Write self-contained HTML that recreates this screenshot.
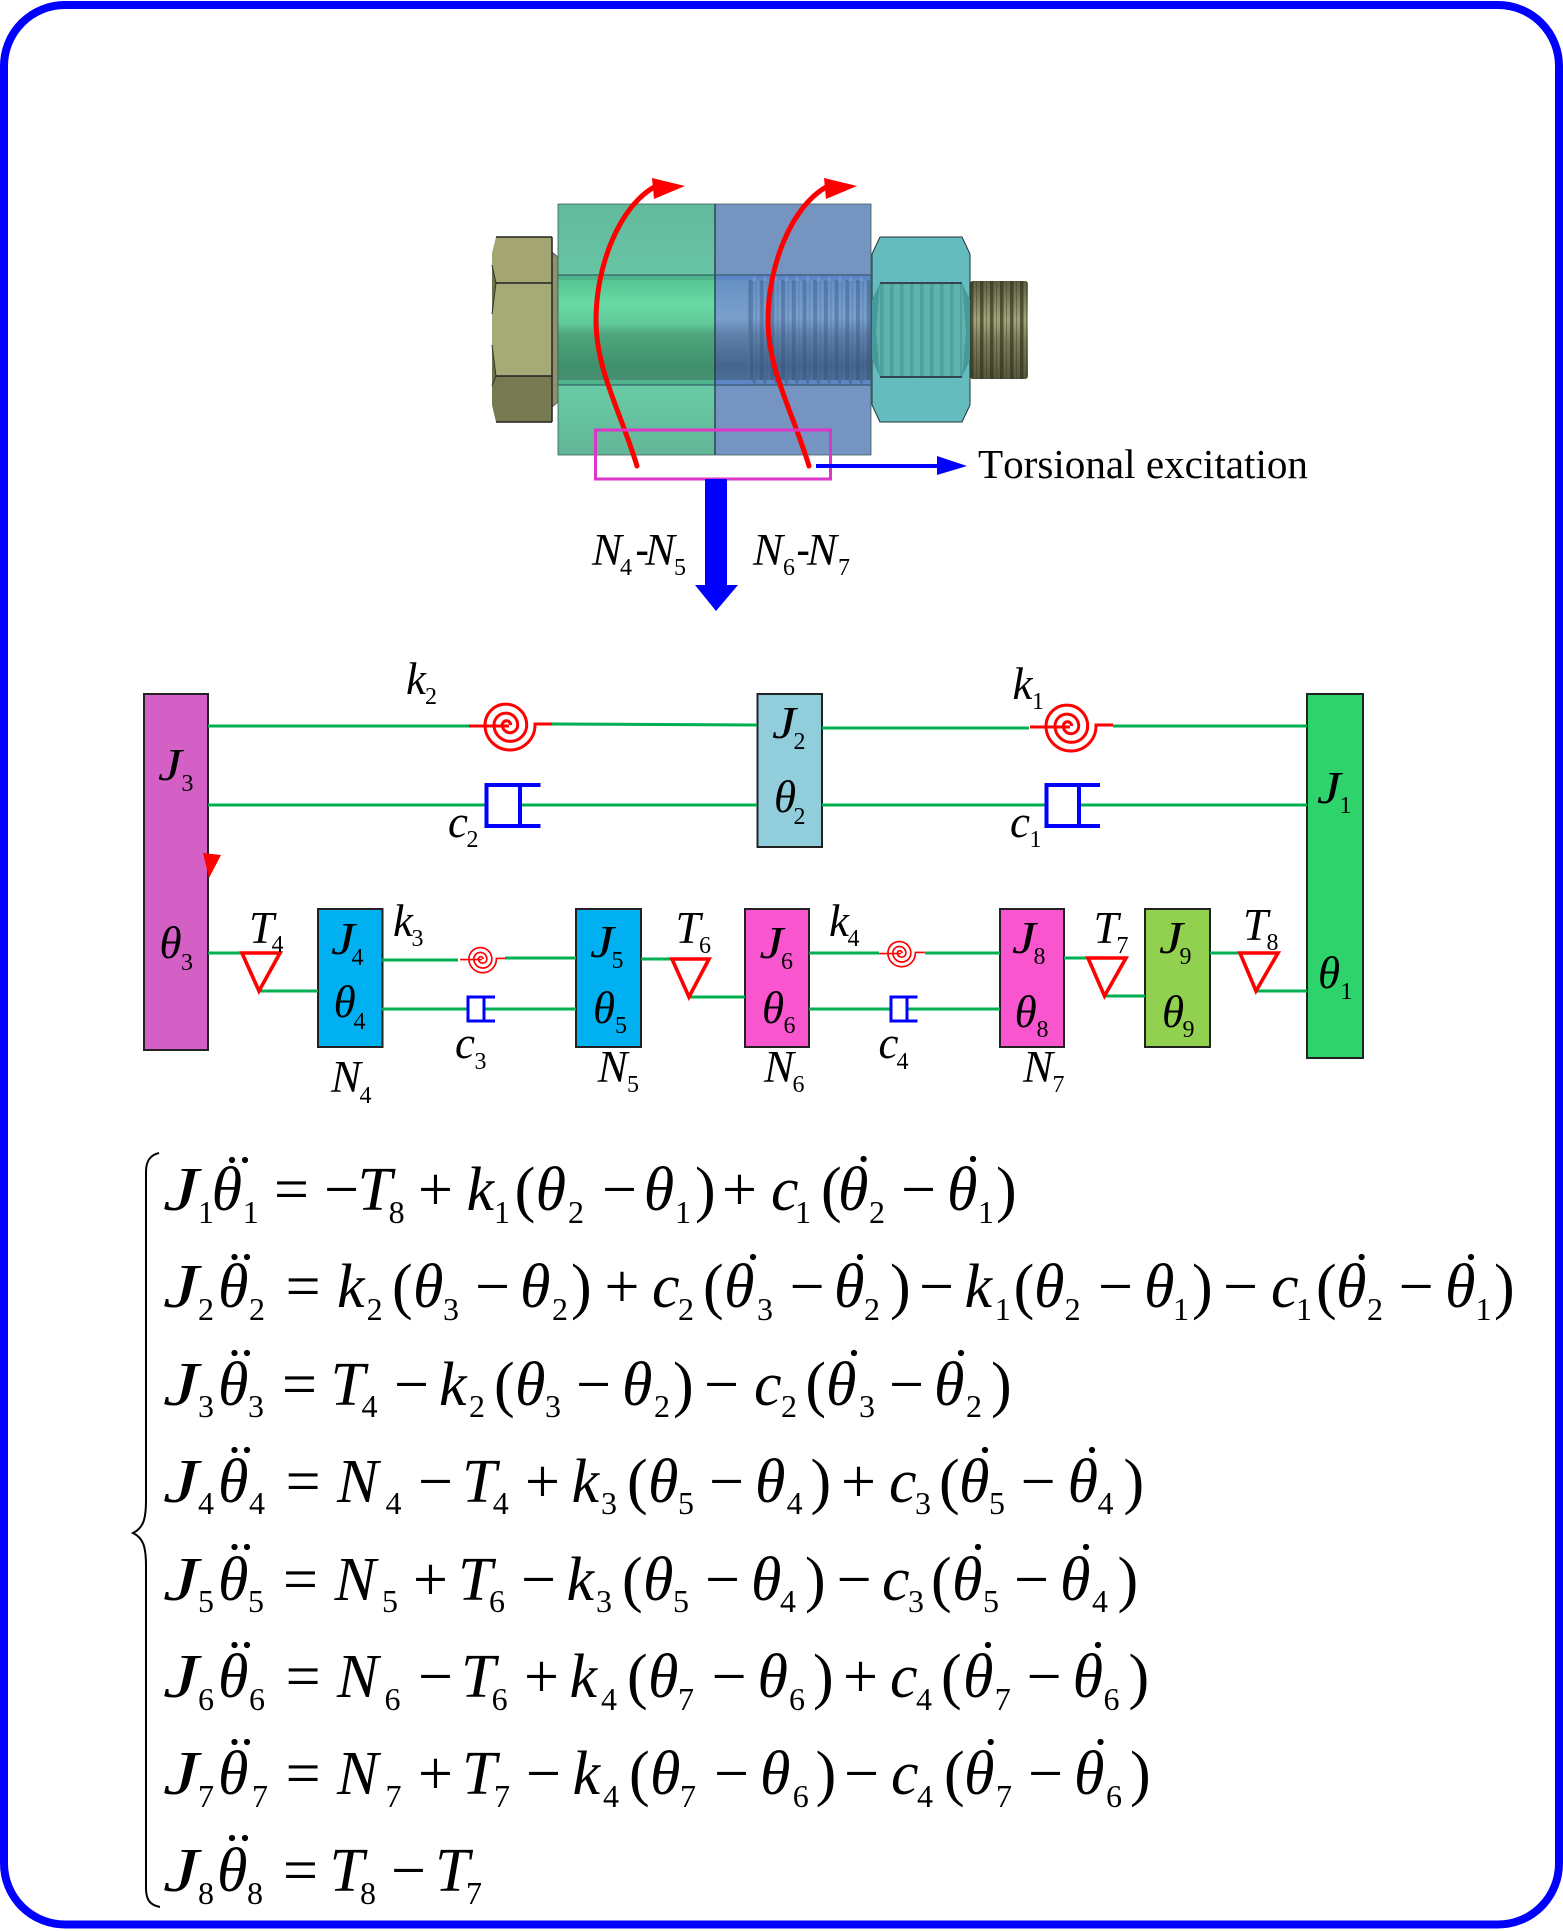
<!DOCTYPE html>
<html><head><meta charset="utf-8"><title>Torsional excitation model</title>
<style>
html,body{margin:0;padding:0;background:#fff}
svg{display:block}
text{font-family:"Liberation Serif",serif;fill:#000;font-kerning:none}
.i{font-style:italic;font-size:62px}
.u{font-size:32px}
.o{font-size:62px}
text.i,text.o,g.i{transform:translateY(2px)}
.L{font-style:italic;font-size:45px}
.S{font-size:24px}
.g{stroke:#00b050;stroke-width:3;fill:none}
.b{stroke:#222;stroke-width:2}
.t{fill:none;stroke:#f00;stroke-width:3.6;stroke-linejoin:miter}
.d{fill:none;stroke:#00f;stroke-width:4}
.ds{fill:none;stroke:#00f;stroke-width:3}
.r{fill:none;stroke:#f00;stroke-width:5;stroke-linecap:round}
</style></head><body>
<svg width="1563" height="1931" viewBox="0 0 1563 1931" xmlns="http://www.w3.org/2000/svg">
<defs>
<linearGradient id="gc" x1="0" y1="0" x2="0" y2="1">
<stop offset="0" stop-color="#54c693"/><stop offset=".24" stop-color="#69daa5"/><stop offset=".44" stop-color="#5fc997"/><stop offset=".54" stop-color="#4ea67e"/><stop offset=".87" stop-color="#3f8f6b"/><stop offset="1" stop-color="#478f73"/>
</linearGradient>
<linearGradient id="bc" x1="0" y1="0" x2="0" y2="1">
<stop offset="0" stop-color="#6690c4"/><stop offset=".38" stop-color="#7aa0cc"/><stop offset=".55" stop-color="#5f80aa"/><stop offset=".85" stop-color="#46668d"/><stop offset="1" stop-color="#4c6e96"/>
</linearGradient>
<linearGradient id="gt" x1="0" y1="0" x2="0" y2="1"><stop offset="0" stop-color="#62ba9c"/><stop offset="1" stop-color="#68c4a4"/></linearGradient>
<linearGradient id="gb" x1="0" y1="0" x2="0" y2="1"><stop offset="0" stop-color="#68cba6"/><stop offset="1" stop-color="#62b698"/></linearGradient>
<linearGradient id="ol" x1="0" y1="0" x2="0" y2="1">
<stop offset="0" stop-color="#5e5f40"/><stop offset=".4" stop-color="#a2a478"/><stop offset=".6" stop-color="#7c7e58"/><stop offset="1" stop-color="#55563a"/>
</linearGradient>
<pattern id="st" width="10.7" height="10" patternUnits="userSpaceOnUse" x="749"><rect x="0" width="4" height="10" fill="#2f4f80" fill-opacity=".4"/><rect x="6.5" width="1.2" height="10" fill="#2f4f80" fill-opacity=".25"/></pattern>
<pattern id="tt" width="10.7" height="6" patternUnits="userSpaceOnUse" x="749" y="275"><path d="M0 6L3 6L5.3 0L7.6 6H10.7Z" fill="#7098cb"/></pattern>
<pattern id="tb" width="10.7" height="6" patternUnits="userSpaceOnUse" x="749" y="379"><path d="M0 0L3 0L5.3 6L7.6 0H10.7Z" fill="#4c6e96"/></pattern>
<pattern id="sn" width="10" height="10" patternUnits="userSpaceOnUse" x="880"><rect x="0" width="3.5" height="10" fill="#2b7f80" fill-opacity=".35"/></pattern>
<pattern id="so" width="10" height="10" patternUnits="userSpaceOnUse" x="970"><rect x="0" width="3.5" height="10" fill="#33341f" fill-opacity=".7"/><rect x="6" width="1" height="10" fill="#33341f" fill-opacity=".4"/></pattern>
<g id="spring">
<path d="M-38 1H2" fill="none" stroke="#f00" stroke-width="3"/>
<path d="M3.7 0A4.2 4.2 0 0 0 -4.7 0A7.7 7.7 0 0 0 10.7 0A11.85 11.85 0 0 0 -13 0A16.35 16.35 0 0 0 19.7 0A20.85 20.85 0 0 0 -22 0A25 25 0 0 0 28 0V-1H45" fill="none" stroke="#f00" stroke-width="3"/>
</g>
</defs>

<rect x="4" y="5" width="1555" height="1919.5" rx="61" ry="61" fill="#fff" stroke="#00f" stroke-width="8"/>

<!-- bolt -->
<path d="M552 252L558 257V402L552 407Z" fill="#8f9268" stroke="#444" stroke-width=".8"/>
<path d="M496 237H552V283H496L492 275V253Z" fill="#a3a673"/>
<path d="M496 283H552V376H496L492 345V314Z" fill="#a6aa76"/>
<path d="M496 376H552V422H496L492 405V386Z" fill="#777a50"/>
<path d="M492 265L496 283L492 314M492 345L496 376L492 386" fill="#6c6e48" stroke="#333" stroke-width="1"/>
<path d="M496 283H552M496 376H552M496 237H552M496 422H552M552 237V422" stroke="#222" stroke-width="1.5" fill="none"/>

<rect x="558" y="204" width="157" height="71" fill="url(#gt)"/>
<rect x="558" y="385" width="157" height="70" fill="url(#gb)"/>
<rect x="558" y="275" width="157" height="110" fill="#4fb48c"/>
<rect x="558" y="280" width="157" height="100" fill="url(#gc)"/>
<rect x="715" y="204" width="156" height="71" fill="#7594bf"/>
<rect x="715" y="385" width="156" height="70" fill="#7594c2"/>
<rect x="715" y="275" width="156" height="110" fill="#5c86c6"/>
<rect x="715" y="280" width="156" height="100" fill="url(#bc)"/>
<rect x="749" y="280" width="122" height="100" fill="url(#st)"/>
<rect x="749" y="275" width="122" height="6" fill="url(#tt)"/>
<rect x="749" y="379" width="122" height="6" fill="url(#tb)"/>
<path d="M749 280V380" stroke="#56749c" stroke-width="1"/>
<path d="M558 204H871V455H558Z" fill="none" stroke="#3a5a5a" stroke-width=".8"/>
<path d="M715 204V455" stroke="#1c2c3a" stroke-width="1.2"/>
<path d="M558 275H871M558 385H871" stroke="#2a4f60" stroke-width="1"/>

<rect x="970" y="281" width="58" height="98" rx="3" fill="url(#ol)"/>
<rect x="970" y="281" width="58" height="98" rx="3" fill="url(#so)"/>

<path d="M880 237H962L970 254V405L962 422H880L872 405V254Z" fill="#65bcbe" stroke="#233" stroke-width="1"/>
<path d="M880 283L872 300V360L880 377Z M962 283L970 300V360L962 377Z" fill="#479a9a"/>
<path d="M880 283H962L966 330L962 377H880L876 330Z" fill="#5fb3ad"/>
<rect x="880" y="284" width="82" height="93" fill="url(#sn)"/>
<path d="M880 283H962M880 377H962" stroke="#223" stroke-width="1.5"/>

<!-- red torsion arrows -->
<path class="r" d="M637 466C620 410 596 370 596 320C596 265 620 205 656 186"/>
<path d="M652 178L685 186L654 199Z" fill="#f00"/>
<path class="r" d="M809 466C792 410 768 370 768 320C768 265 792 205 828 186"/>
<path d="M824 178L857 186L826 199Z" fill="#f00"/>

<rect x="595.5" y="430" width="235" height="49" fill="none" stroke="#dd35c6" stroke-width="3"/>

<path d="M816 466H940" stroke="#00f" stroke-width="4"/>
<path d="M937 456L967 466L937 475Z" fill="#00f"/>
<rect x="705" y="479" width="22" height="106" fill="#00f"/>
<path d="M695 585H738L716 611Z" fill="#00f"/>

<text x="978" y="478" font-size="41" textLength="330" lengthAdjust="spacingAndGlyphs">Torsional excitation</text>

<text class="L" x="592" y="565">N</text><text class="S" x="620" y="575">4</text><text x="635.5" y="563" font-size="40" font-weight="bold">-</text><text class="L" x="645" y="565">N</text><text class="S" x="674" y="575">5</text>
<text class="L" x="753" y="565">N</text><text class="S" x="783" y="575">6</text><text x="796.5" y="563" font-size="40" font-weight="bold">-</text><text class="L" x="807" y="565">N</text><text class="S" x="838" y="575">7</text>

<!-- boxes -->
<rect class="b" x="144" y="694" width="64" height="356" fill="#d45fc5"/>
<rect class="b" x="757.5" y="694" width="64.5" height="153" fill="#92cddc"/>
<rect class="b" x="1307" y="694" width="56" height="364" fill="#2ed36b"/>
<rect class="b" x="318" y="909" width="64.5" height="138" fill="#00b0f0"/>
<rect class="b" x="576" y="909" width="65" height="138" fill="#00b0f0"/>
<rect class="b" x="745" y="909" width="64" height="138" fill="#f955cf"/>
<rect class="b" x="1000" y="909" width="64" height="138" fill="#f955cf"/>
<rect class="b" x="1145" y="909" width="65" height="138" fill="#92d050"/>

<!-- green connectors -->
<path class="g" d="M208 726H470M552 724L757 725M822 728H1029M1113 726H1307M208 805H488M519 805H757M822 805H1048M1079 805H1307
M208 953H242M259 991H318M382 960H458M505 958H576M382 1009H468M484 1009H576M641 959H672M689 997H745M809 953H879M925 953H1000M809 1009H891M907 1009H1000M1064 958H1088M1104 996H1145M1210 953H1240M1256 991H1307"/>

<!-- springs -->
<use href="#spring" transform="translate(507 725)"/>
<use href="#spring" transform="translate(1068 726)"/>
<use href="#spring" transform="translate(481 959) scale(.55)"/>
<use href="#spring" transform="translate(900 953) scale(.55)"/>

<!-- dampers -->
<path class="d" d="M540.5 785H486.5V826H540.5M520 785V826"/>
<path class="d" d="M1100 785H1046.5V826H1100M1079 785V826"/>
<path class="ds" d="M495 997H468V1021H495M484 997V1021"/>
<path class="ds" d="M917.5 997H891V1021H917.5M907 997V1021"/>

<!-- triangles -->
<path class="t" d="M242 953H280L259 991Z"/>
<path class="t" d="M672 959H709L689 997Z"/>
<path class="t" d="M1088 958H1126L1104.5 996Z"/>
<path class="t" d="M1240 953H1278L1256 991Z"/>
<path d="M203 853L221 855L209 878Z" fill="#f00"/>

<!-- labels -->
<text class="L" x="406" y="694">k</text><text class="S" x="425" y="704">2</text>
<text class="L" x="1012.5" y="699">k</text><text class="S" x="1032" y="709">1</text>
<text class="L" transform="translate(158 780) scale(1.2 1)">J</text><text class="S" x="181.5" y="791">3</text>
<text class="L" x="159.5" y="958">θ</text><text class="S" x="181" y="970">3</text>
<text class="L" transform="translate(772 738) scale(1.2 1)">J</text><text class="S" x="793.5" y="749">2</text>
<text class="L" x="774" y="812">θ</text><text class="S" x="793.5" y="824">2</text>
<text class="L" x="448" y="837">c</text><text class="S" x="466.5" y="847">2</text>
<text class="L" x="1010" y="837">c</text><text class="S" x="1029.5" y="847">1</text>
<text class="L" transform="translate(1317 803) scale(1.2 1)">J</text><text class="S" x="1339.5" y="813">1</text>
<text class="L" x="1318" y="988">θ</text><text class="S" x="1340.5" y="999">1</text>
<text class="L" x="249" y="943">T</text><text class="S" x="271.5" y="952">4</text>
<text class="L" transform="translate(331 954) scale(1.2 1)">J</text><text class="S" x="351.5" y="965">4</text>
<text class="L" x="333.6" y="1017">θ</text><text class="S" x="353.5" y="1029">4</text>
<text class="L" x="393" y="936">k</text><text class="S" x="411.5" y="946">3</text>
<text class="L" transform="translate(590 957) scale(1.2 1)">J</text><text class="S" x="611.5" y="968">5</text>
<text class="L" x="593" y="1023">θ</text><text class="S" x="615" y="1033">5</text>
<text class="L" x="675.5" y="943">T</text><text class="S" x="699" y="953">6</text>
<text class="L" transform="translate(759.5 958) scale(1.2 1)">J</text><text class="S" x="781" y="969">6</text>
<text class="L" x="762" y="1023">θ</text><text class="S" x="783.5" y="1033">6</text>
<text class="L" x="455" y="1058">c</text><text class="S" x="474.5" y="1069">3</text>
<text class="L" x="331" y="1092">N</text><text class="S" x="359.5" y="1103">4</text>
<text class="L" x="597.6" y="1082">N</text><text class="S" x="627" y="1092">5</text>
<text class="L" x="764" y="1082">N</text><text class="S" x="792.5" y="1092">6</text>
<text class="L" x="829" y="936">k</text><text class="S" x="847.5" y="946">4</text>
<text class="L" x="878.5" y="1058">c</text><text class="S" x="896.5" y="1069">4</text>
<text class="L" transform="translate(1012 953) scale(1.2 1)">J</text><text class="S" x="1033.5" y="964">8</text>
<text class="L" x="1014.6" y="1027">θ</text><text class="S" x="1036.5" y="1037">8</text>
<text class="L" x="1023" y="1082">N</text><text class="S" x="1052.5" y="1092">7</text>
<text class="L" x="1093.5" y="943">T</text><text class="S" x="1116.5" y="953">7</text>
<text class="L" transform="translate(1159 953) scale(1.2 1)">J</text><text class="S" x="1179.5" y="964">9</text>
<text class="L" x="1162" y="1027">θ</text><text class="S" x="1182.5" y="1037">9</text>
<text class="L" x="1243" y="940">T</text><text class="S" x="1266.5" y="950">8</text>

<!-- brace -->
<path d="M159 1153C150 1155 146 1161 146 1172V1500C146 1520 143 1528 133 1533C143 1538 146 1546 146 1566V1888C146 1900 150 1905 160 1907" fill="none" stroke="#000" stroke-width="2"/>

<!-- equations -->
<g class="i">
<text transform="translate(163 1208) scale(1.3 1)">J</text><text transform="translate(163 1305) scale(1.3 1)">J</text><text transform="translate(163 1403) scale(1.3 1)">J</text><text transform="translate(163 1500) scale(1.3 1)">J</text><text transform="translate(163 1598) scale(1.3 1)">J</text><text transform="translate(163 1695) scale(1.3 1)">J</text><text transform="translate(163 1792) scale(1.3 1)">J</text><text transform="translate(163 1889) scale(1.3 1)">J</text>
</g>
<text class="i" y="1208" x="211.6 357.5 466.5 535.6 643.7 771 838 947">θTkθθcθθ</text>
<text class="u" y="1223" x="198 242.7 388.6 494 568 675 795 869 978">118121121</text>
<text class="o" y="1208" x="274 324 418 514.6 602 695 722 821 901 996">=−+(−)+(−)</text>
<g fill="#000"><circle cx="232" cy="1160" r="3.1"/><circle cx="245" cy="1160" r="3.1"/><circle cx="863.6" cy="1159" r="3.1"/><circle cx="973" cy="1159" r="3.1"/></g>

<text class="i" y="1305" x="218 337 413 520 652 724 834 964.5 1034 1144 1271 1336 1445">θkθθcθθkθθcθθ</text>
<text class="u" y="1320" x="198 249 366.6 443 552 678 757 864 994.7 1064.6 1173 1296 1367 1475.5">22232232121121</text>
<text class="o" y="1305" x="285.6 392 475 571 604.5 703 789.6 890 919 1013.6 1098 1192 1223 1316 1398.6 1494">=(−)+(−)−(−)−(−)</text>
<g fill="#000"><circle cx="234.5" cy="1257" r="3.1"/><circle cx="247" cy="1257" r="3.1"/><circle cx="753" cy="1257" r="3.1"/><circle cx="860" cy="1257" r="3.1"/><circle cx="1361.6" cy="1257" r="3.1"/><circle cx="1471" cy="1257" r="3.1"/></g>

<text class="i" y="1403" x="218 330.5 439 515 622 754 826 934">θTkθθcθθ</text>
<text class="u" y="1417" x="198 248 361.5 469 545 654 781 859 966">334232232</text>
<text class="o" y="1403" x="282 394 494 576 673 704 805.4 889 991">=−(−)−(−)</text>
<g fill="#000"><circle cx="234.5" cy="1353" r="3.1"/><circle cx="247" cy="1353" r="3.1"/><circle cx="854" cy="1353" r="3.1"/><circle cx="961" cy="1353" r="3.1"/></g>

<text class="i" y="1500" x="218 337 462 571.5 648 755 889 959 1067.6">θNTkθθcθθ</text>
<text class="u" y="1514" x="198 249 385.5 492.7 601 678 786.6 915 989 1097.5">4444354354</text>
<text class="o" y="1500" x="285.6 418 525 627 709 810.5 841 939 1020.6 1123.5">=−+(−)+(−)</text>
<g fill="#000"><circle cx="234.5" cy="1450" r="3.1"/><circle cx="247" cy="1450" r="3.1"/><circle cx="985" cy="1450" r="3.1"/><circle cx="1092" cy="1450" r="3.1"/></g>

<text class="i" y="1598" x="218 334.5 458 566.5 643 751 882 952 1060">θNTkθθcθθ</text>
<text class="u" y="1612" x="198 248 382 489 596 673 780 908 983 1092">5556354354</text>
<text class="o" y="1598" x="283 413 521 622 705 805 836.6 931 1014 1117.5">=+−(−)−(−)</text>
<g fill="#000"><circle cx="234.5" cy="1547" r="3.1"/><circle cx="247" cy="1547" r="3.1"/><circle cx="978" cy="1547" r="3.1"/><circle cx="1086" cy="1547" r="3.1"/></g>

<text class="i" y="1695" x="218 337 461 569.5 648 757.5 890 963 1072.6">θNTkθθcθθ</text>
<text class="u" y="1710" x="198 249 384.5 491.6 601 678 789 916 994.7 1103.5">6666476476</text>
<text class="o" y="1695" x="285.6 418 524 627 711.6 813 843 941 1026.6 1128.5">=−+(−)+(−)</text>
<g fill="#000"><circle cx="234.5" cy="1645" r="3.1"/><circle cx="247" cy="1645" r="3.1"/><circle cx="988" cy="1645" r="3.1"/><circle cx="1098" cy="1645" r="3.1"/></g>

<text class="i" y="1792" x="218 337 462 572.5 650 760 891 964 1074">θNTkθθcθθ</text>
<text class="u" y="1807" x="198 252 385.5 494 603 680 792.7 917 996 1106">7777476476</text>
<text class="o" y="1792" x="285.6 418 526 629 714 815.6 844 944 1028 1130">=+−(−)−(−)</text>
<g fill="#000"><circle cx="234.5" cy="1742" r="3.1"/><circle cx="247" cy="1742" r="3.1"/><circle cx="990.7" cy="1742" r="3.1"/><circle cx="1100.5" cy="1742" r="3.1"/></g>

<text class="i" y="1889" x="217 329.5 435">θTT</text>
<text class="u" y="1904" x="198 247 360 466">8887</text>
<text class="o" y="1889" x="283 391">=−</text>
<g fill="#000"><circle cx="232" cy="1838" r="3.1"/><circle cx="245" cy="1838" r="3.1"/></g>
</svg>
</body></html>
